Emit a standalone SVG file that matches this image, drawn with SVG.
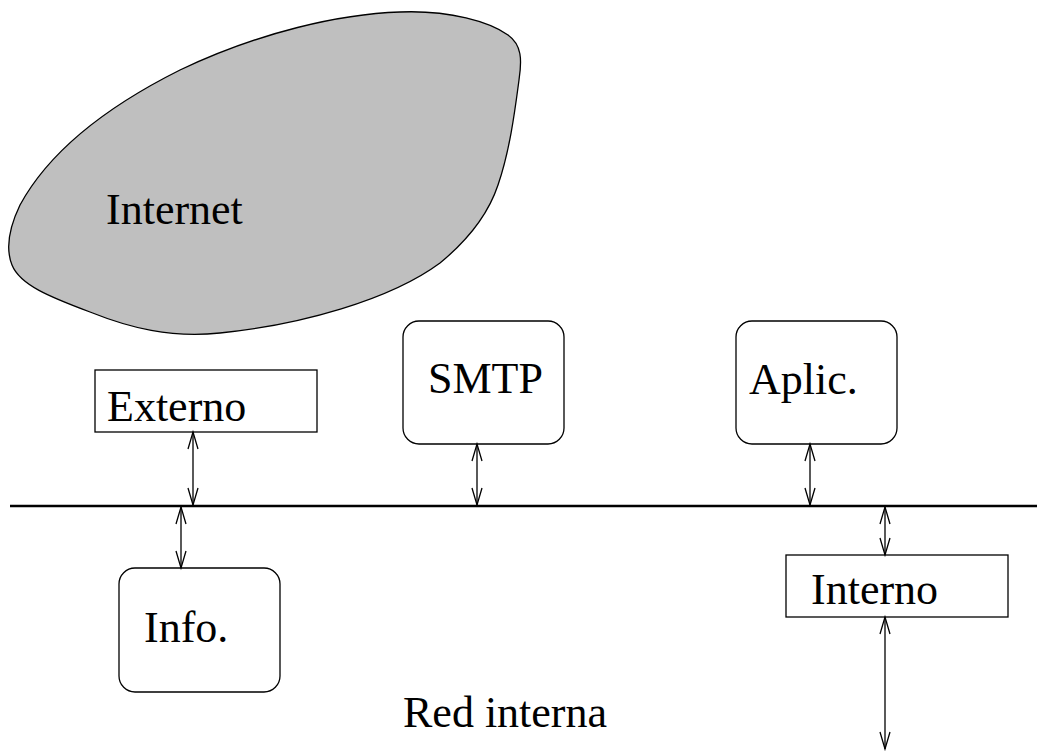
<svg xmlns="http://www.w3.org/2000/svg" width="1037" height="751" viewBox="0 0 1037 751">
  <style>
    .lbl { font-family: "Liberation Serif", "Times New Roman", serif; font-size: 44px; fill: #000; }
    .box { fill: #fff; stroke: #000; stroke-width: 1.3; }
    .link { stroke: #000; stroke-width: 1.3; fill: none; marker-start: url(#tip); marker-end: url(#tip); }
  </style>
  <defs>
    <marker id="tip" markerUnits="userSpaceOnUse" markerWidth="20" markerHeight="14" viewBox="-18 -7 20 14" refX="0" refY="0" orient="auto-start-reverse" overflow="visible">
      <path d="M-17,-5 L0,0 L-17,5" fill="none" stroke="#000" stroke-width="1.3"/>
    </marker>
  </defs>
  <rect width="1037" height="751" fill="#fff"/>

  <!-- Internet cloud -->
  <g id="internet">
    <path d="M400,12 C450,10 490,22 508,35 C522,45 522,60 519,80 C515,110 510,150 498,185 C488,215 468,240 440,263 C390,300 300,325 220,333 C170,338 130,328 90,312 C50,297 20,285 12,265 C6,250 8,230 20,205 C50,150 110,105 180,70 C260,32 340,14 400,12 Z" fill="#bfbfbf" stroke="#000" stroke-width="1.3"/>
    <text class="lbl" x="106" y="224">Internet</text>
  </g>

  <!-- network bus -->
  <g id="bus">
    <line x1="10" y1="506" x2="1037" y2="506" stroke="#000" stroke-width="2.5"/>
    <text class="lbl" x="403" y="727">Red interna</text>
  </g>

  <g id="externo">
    <rect class="box" x="95" y="370" width="222" height="62"/>
    <text class="lbl" x="107" y="421">Externo</text>
  </g>

  <g id="smtp">
    <rect class="box" x="403" y="321" width="161" height="123" rx="16"/>
    <text class="lbl" x="428" y="393">SMTP</text>
  </g>

  <g id="aplic">
    <rect class="box" x="736" y="321" width="161" height="123" rx="16"/>
    <text class="lbl" x="749" y="394">Aplic.</text>
  </g>

  <g id="info">
    <rect class="box" x="119" y="568" width="161" height="124" rx="16"/>
    <text class="lbl" x="144" y="642">Info.</text>
  </g>

  <g id="interno">
    <rect class="box" x="786" y="555" width="222" height="62"/>
    <text class="lbl" x="811" y="604">Interno</text>
  </g>

  <!-- connectors -->
  <g id="connectors">
    <line class="link" x1="193" y1="432" x2="193" y2="505"/>
    <line class="link" x1="477" y1="444" x2="477" y2="505"/>
    <line class="link" x1="810" y1="444" x2="810" y2="505"/>
    <line class="link" x1="181" y1="507" x2="181" y2="568"/>
    <line class="link" x1="885" y1="507" x2="885" y2="555"/>
    <line class="link" x1="885" y1="617" x2="885" y2="749"/>
  </g>
</svg>
